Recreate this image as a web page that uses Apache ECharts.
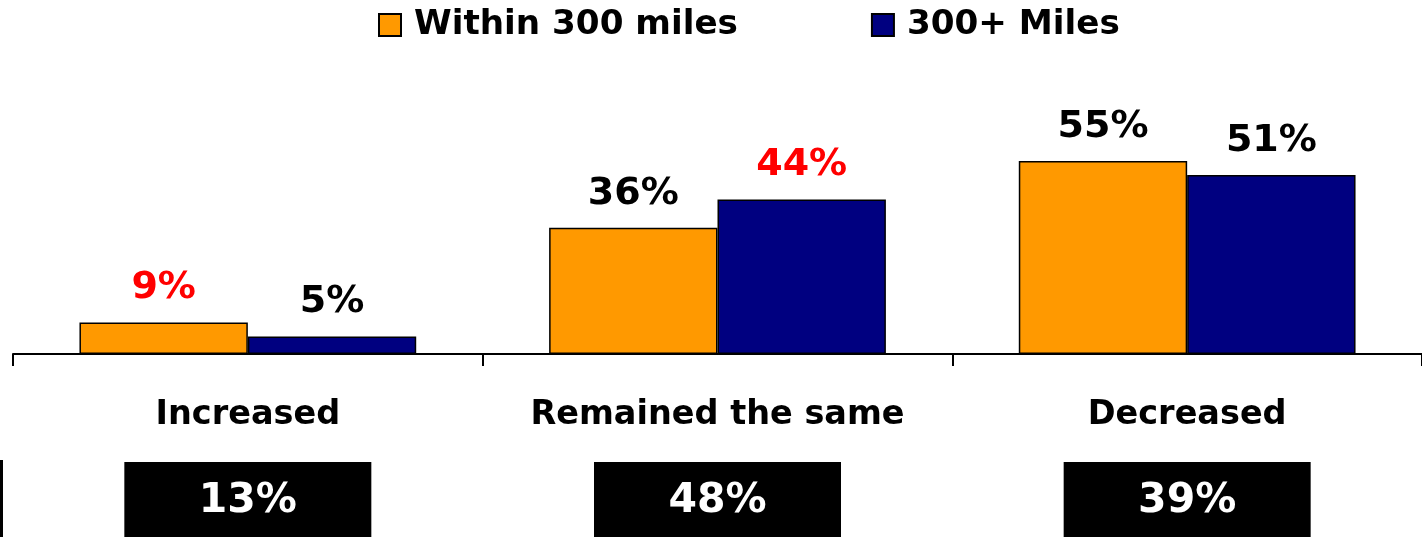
<!DOCTYPE html>
<html>
<head>
<meta charset="utf-8">
<script src="https://cdn.jsdelivr.net/npm/echarts@6/dist/echarts.min.js"></script>
<style>
  html, body { margin: 0; padding: 0; background: #fff; }
  #chart { width: 1422px; height: 537px; }
</style>
</head>
<body>
<div id="chart"></div>
<script>
// Change in trips, by distance travelled
const categories = ['Increased', 'Remained the same', 'Decreased'];
const seriesNames = ['Within 300 miles', '300+ Miles'];
const within300 = [9, 36, 55];
const over300 = [5, 44, 51];
const totals = [13, 48, 39];
// value labels shown in red: [seriesIndex, categoryIndex]
const highlighted = [[0, 0], [1, 1]];

const FONT = 'DejaVu Sans';
const colors = ['#FF9900', '#000080'];

function isHighlighted(s, i) {
  return highlighted.some(h => h[0] === s && h[1] === i);
}

function barData(values, s) {
  return values.map((v, i) => ({
    value: v,
    label: { color: isHighlighted(s, i) ? '#FF0000' : '#000000' }
  }));
}

const chart = echarts.init(document.getElementById('chart'), null, { renderer: 'canvas' });

chart.setOption({
  animation: false,
  backgroundColor: '#ffffff',
  legend: {
    left: 373,
    top: 3,
    itemWidth: 38,
    itemHeight: 22,
    itemGap: 133,
    icon: 'path://M0,0H22V22H0Z',
    itemStyle: { borderColor: '#000', borderWidth: 2 },
    textStyle: { fontFamily: FONT, fontWeight: 'bold', fontSize: 34.2, color: '#000' },
    data: seriesNames
  },
  grid: {
    left: 13, right: 0, top: 143.4, bottom: 183,
    containLabel: false,
    outerBoundsMode: 'none'
  },
  xAxis: [
    {
      type: 'category',
      data: categories,
      axisLine: { lineStyle: { color: '#000', width: 2 } },
      axisTick: { show: true, length: 12, lineStyle: { color: '#000', width: 2 } },
      axisLabel: {
        interval: 0,
        margin: 44,
        fontFamily: FONT, fontWeight: 'bold', fontSize: 33.5, color: '#000'
      }
    },
    {
      type: 'category',
      position: 'bottom',
      data: totals.map(t => t + '%'),
      axisLine: { show: false },
      axisTick: { show: false },
      axisLabel: {
        interval: 0,
        margin: 108,
        fontFamily: FONT, fontWeight: 'bold', fontSize: 41, color: '#fff',
        backgroundColor: '#000',
        width: 247,
        align: 'center',
        lineHeight: 40,
        padding: [19, 0, 30, 0]
      }
    }
  ],
  yAxis: { type: 'value', min: 0, max: 60, show: false, splitLine: { show: false } },
  series: [within300, over300].map((vals, s) => ({
    name: seriesNames[s],
    type: 'bar',
    xAxisIndex: 0,
    barGap: '0%',
    barCategoryGap: '28.3%',
    data: barData(vals, s),
    itemStyle: { color: colors[s], borderColor: '#000', borderWidth: 1.5 },
    label: {
      show: true,
      position: 'top',
      distance: 15,
      formatter: '{c}%',
      fontFamily: FONT, fontWeight: 'bold', fontSize: 38
    }
  })),
  graphic: [
    { type: 'rect', left: 0, top: 460, shape: { width: 3, height: 77 }, style: { fill: '#000' } }
  ]
});
</script>
</body>
</html>
